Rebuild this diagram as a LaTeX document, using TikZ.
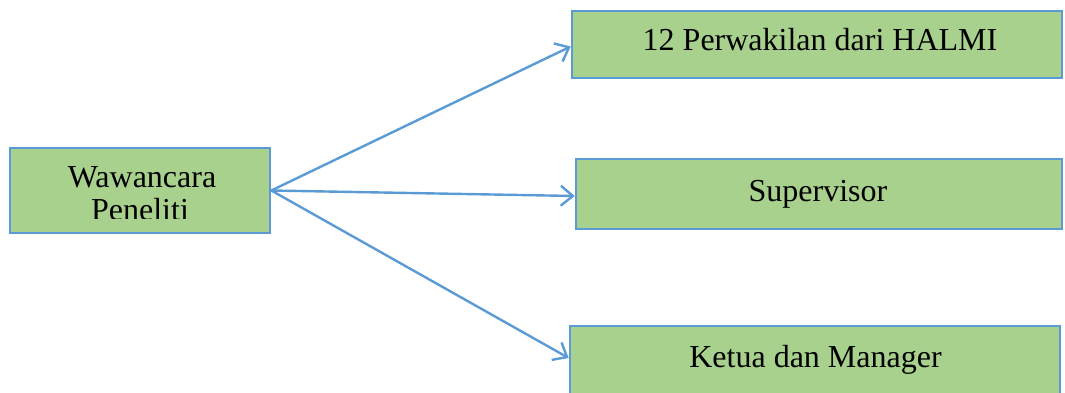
\documentclass[tikz,border=0pt]{standalone}
\usepackage{fontspec}
\setmainfont{Liberation Serif}
\usetikzlibrary{arrows.meta}
\definecolor{boxfill}{HTML}{A9D18E}
\definecolor{boxline}{HTML}{5B9BD5}
\begin{document}
\begin{tikzpicture}[x=1pt,y=-1pt,
  box/.style={draw=boxline,fill=boxfill,line width=2.6pt,rectangle,inner sep=0pt},
  lbl/.style={anchor=base,inner sep=0pt,font=\fontsize{32}{38}\selectfont},
  link/.style={draw=boxline,line width=2.4pt,-{Straight Barb[length=12pt,width=20pt,line width=2.4pt]}}]
\useasboundingbox (0,0) rectangle (1065,393);
% boxes
\node[box,minimum width=260pt,minimum height=85pt] (src) at (140,190.5) {};
\node[box,minimum width=490pt,minimum height=67pt] (halmi) at (817,44.5) {};
\node[box,minimum width=486pt,minimum height=70pt] (sup) at (819,194) {};
\node[box,minimum width=490pt,minimum height=74pt] (ketua) at (815,363) {};
% labels
\node[lbl] (t1) at (142,187) {Wawancara};
\begin{scope}
  \clip (0,0) rectangle (1065,218);
  \node[lbl] (t2) at (140,220) {Peneliti};
\end{scope}
\node[lbl] (t3) at (820,51) {12 Perwakilan dari HALMI};
\node[lbl] (t4) at (818,201) {Supervisor};
\node[lbl] (t5) at (815.5,367) {Ketua dan Manager};
% connectors
\draw[link] (src.east) -- ([yshift=-2pt]halmi.west);
\draw[link] (src.east) -- ([yshift=-2pt]sup.west);
\draw[link] (src.east) -- ([yshift=5pt]ketua.west);
\end{tikzpicture}
\end{document}
